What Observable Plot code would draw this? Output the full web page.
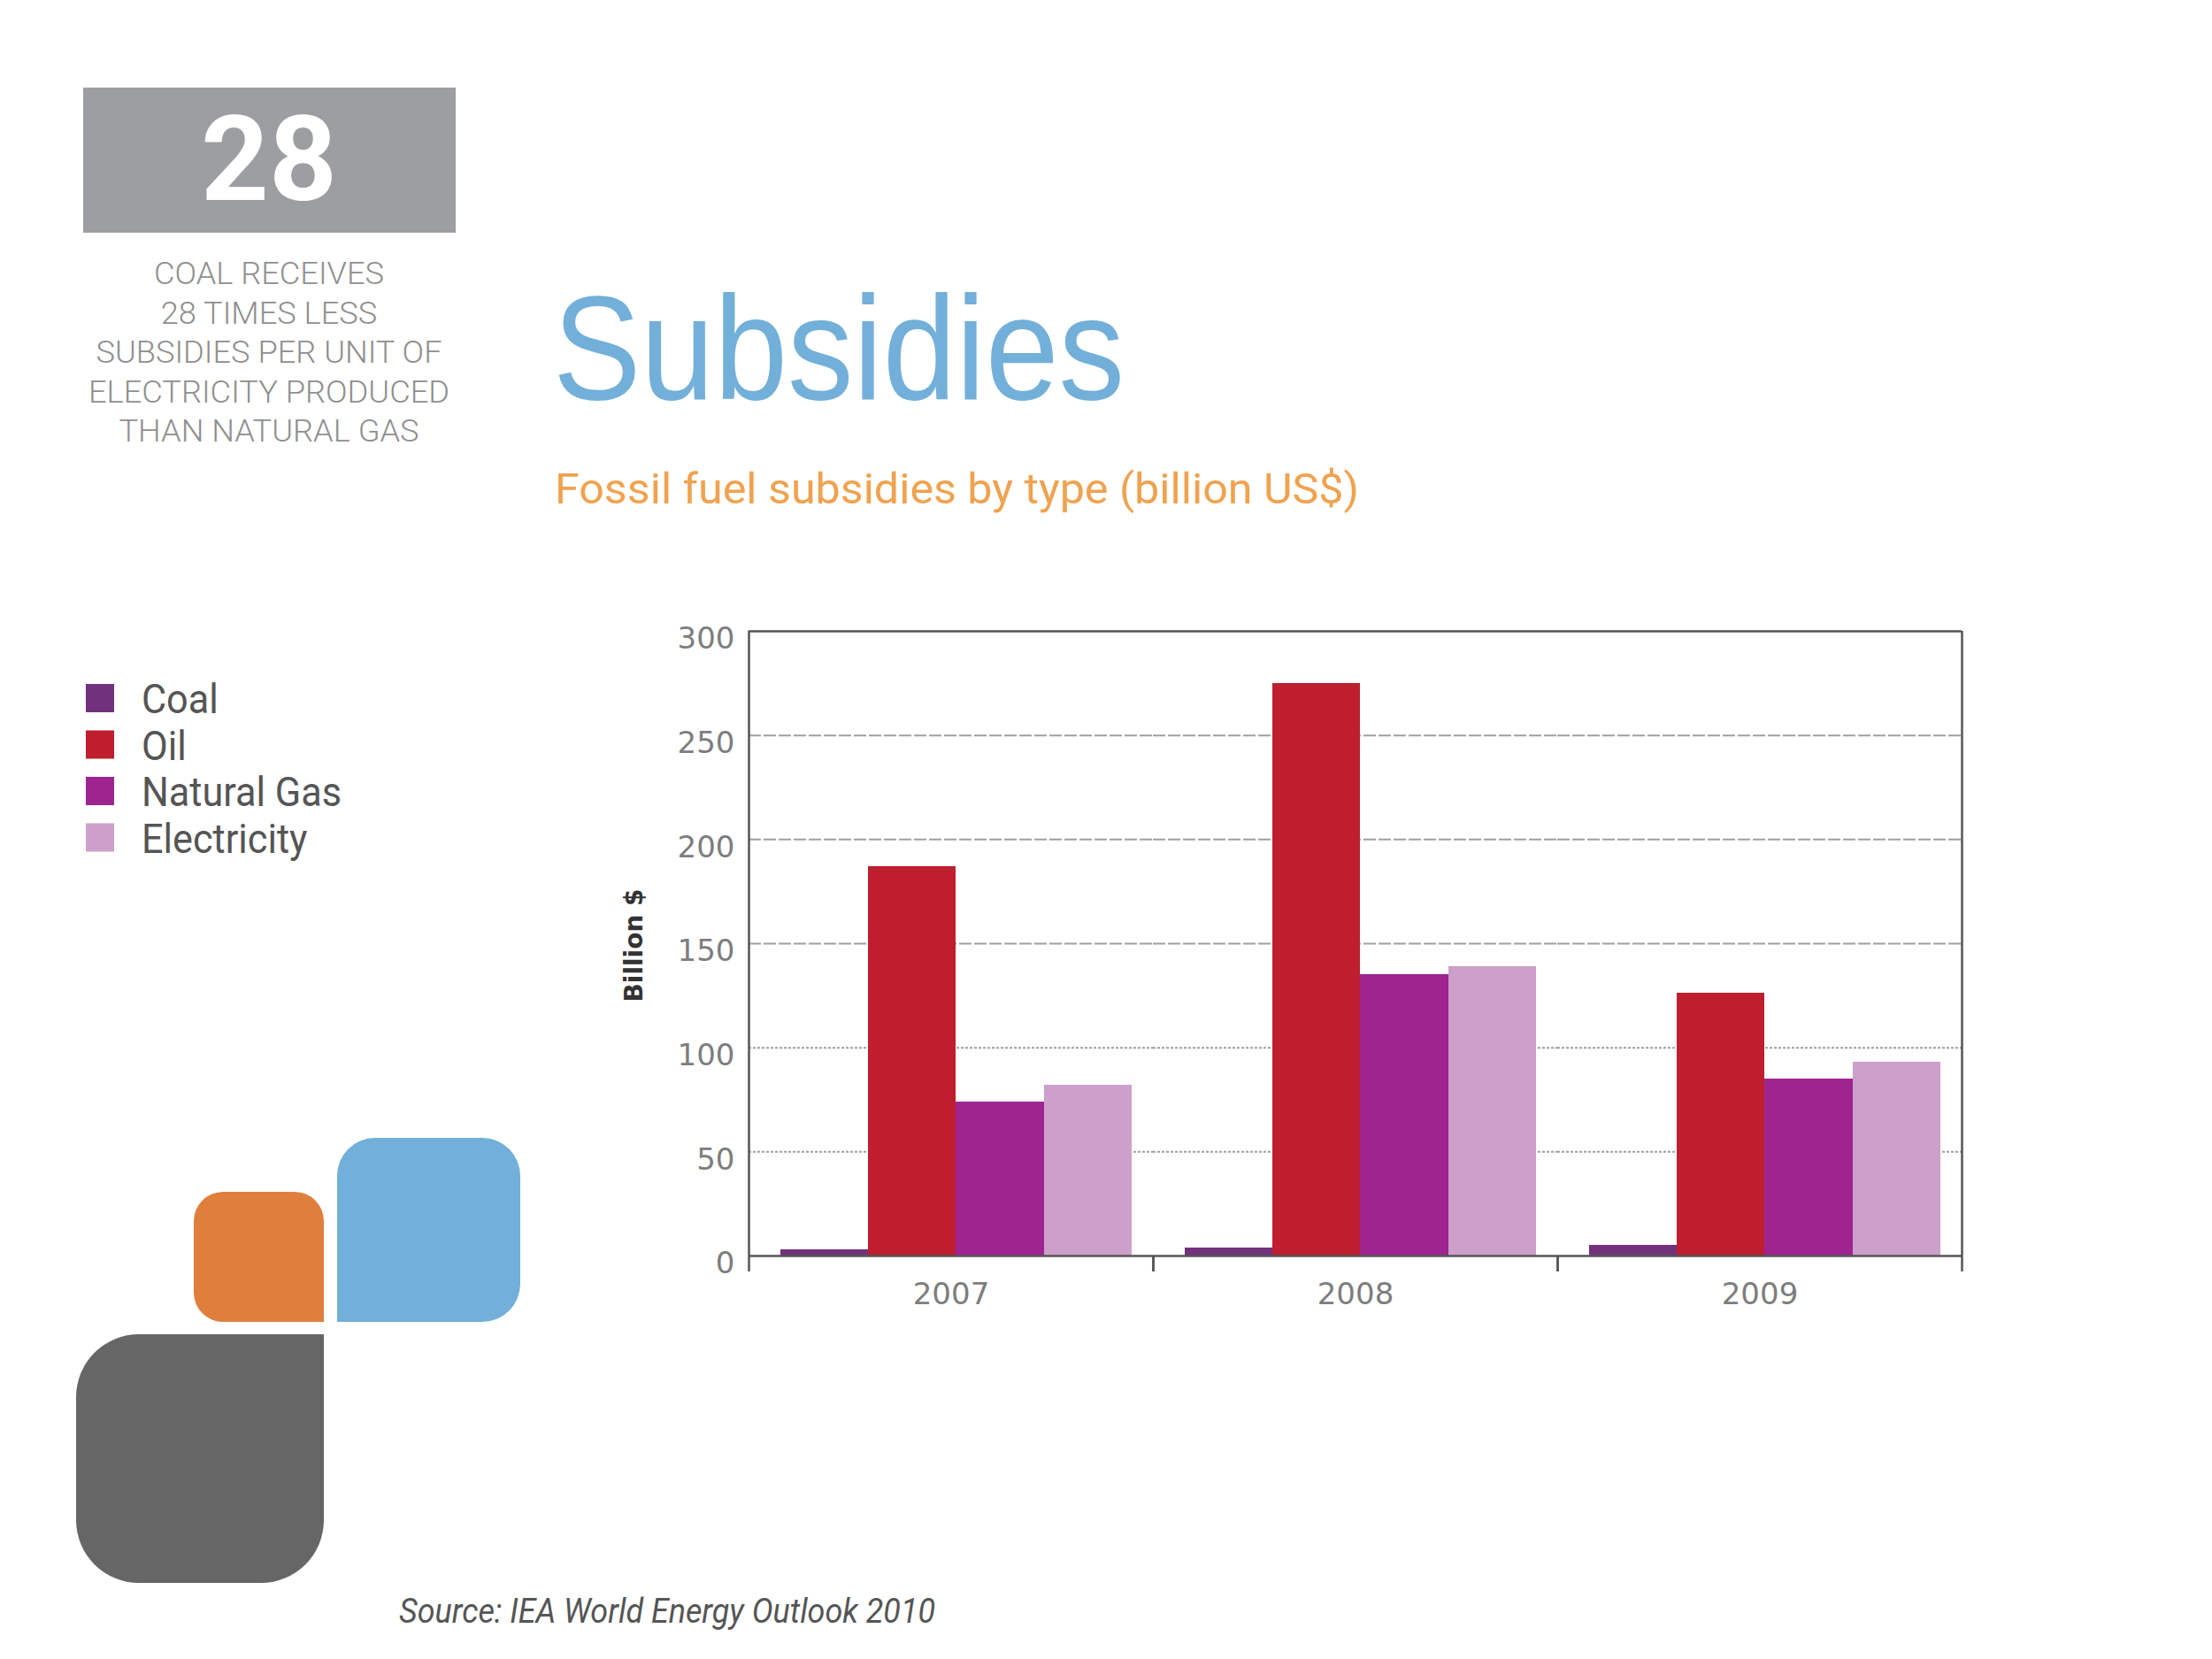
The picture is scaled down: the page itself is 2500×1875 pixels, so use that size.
<!DOCTYPE html>
<html><head><meta charset="utf-8">
<script src="https://cdn.jsdelivr.net/npm/d3@7"></script>
<script src="https://cdn.jsdelivr.net/npm/@observablehq/plot@0.6"></script>
<style>
body{margin:0;background:#fff;}
#page{position:relative;width:2500px;height:1875px;overflow:hidden;background:#fff;}
#page svg{position:absolute;}
</style></head><body><div id="page"></div>
<script>
// ---- data ----
const years = ["2007", "2008", "2009"];
const types = ["Coal", "Oil", "Natural Gas", "Electricity"];
const coal = [3, 4, 5];
const oil = [187, 275, 126];
const naturalGas = [74, 135, 85];
const electricity = [82, 139, 93];
const typeColors = ["#72317c", "#be1e2d", "#9e2590", "#cca0ca"];
const yTicks = [0, 50, 100, 150, 200, 250, 300];
const bigNumber = "28";
const sideNote = ["COAL RECEIVES", "28 TIMES LESS", "SUBSIDIES PER UNIT OF", "ELECTRICITY PRODUCED", "THAN NATURAL GAS"];
const title = "Subsidies";
const subtitle = "Fossil fuel subsidies by type (billion US$)";
const yLabel = "Billion $";
const source = "Source: IEA World Energy Outlook 2010";

const series = [coal, oil, naturalGas, electricity];
const table = years.flatMap((year, i) => types.map((type, k) => ({year, type, k, value: series[k][i]})));

const page = document.getElementById("page");

// ---- background decorations & text ----
const W = 2500, H = 1875;
const bg = d3.select(page).append("svg").attr("width", W).attr("height", H).style("left", "0px").style("top", "0px");

function roundedRect(x, y, w, h, [tl, tr, br, bl]) {
  return `M${x + tl},${y}H${x + w - tr}` + (tr ? `A${tr},${tr} 0 0 1 ${x + w},${y + tr}` : "") +
    `V${y + h - br}` + (br ? `A${br},${br} 0 0 1 ${x + w - br},${y + h}` : "") +
    `H${x + bl}` + (bl ? `A${bl},${bl} 0 0 1 ${x},${y + h - bl}` : "") +
    `V${y + tl}` + (tl ? `A${tl},${tl} 0 0 1 ${x + tl},${y}` : "") + "Z";
}
bg.append("path").attr("d", roundedRect(219, 1347, 147, 147, [33, 33, 0, 33])).attr("fill", "#e07e3c");
bg.append("path").attr("d", roundedRect(381, 1286, 207, 208, [43, 43, 43, 0])).attr("fill", "#72b0d9");
bg.append("path").attr("d", roundedRect(86, 1508, 280, 281, [71, 0, 71, 71])).attr("fill", "#666666");

// big number box
bg.append("rect").attr("x", 94).attr("y", 99).attr("width", 421).attr("height", 164).attr("fill", "#9d9ea2");
bg.append("text").text(bigNumber).attr("x", 304).attr("y", 226).attr("text-anchor", "middle")
  .attr("fill", "#fff").attr("font-family", "Roboto, 'Open Sans', sans-serif").attr("font-weight", 700).attr("font-size", 134);

// side note
const noteG = bg.append("g").attr("font-family", "Roboto, 'Open Sans', sans-serif").attr("font-weight", 300)
  .attr("font-size", 35).attr("fill", "#8f8f8f").attr("text-anchor", "middle");
const noteTexts = sideNote.map((t, i) => noteG.append("text").text(t).attr("x", 304).attr("y", 321 + i * 44.6));
const noteScale = 408 / noteTexts[3].node().getComputedTextLength();
noteTexts.forEach(t => t.attr("textLength", t.node().getComputedTextLength() * noteScale).attr("lengthAdjust", "spacingAndGlyphs"));

// title & subtitle
bg.append("text").text(title).attr("x", 625).attr("y", 451).attr("fill", "#72b0d9")
  .attr("font-family", "'Liberation Sans', Arial, sans-serif").attr("font-size", 167)
  .attr("textLength", 646).attr("lengthAdjust", "spacingAndGlyphs");
bg.append("text").text(subtitle).attr("x", 627).attr("y", 569).attr("fill", "#f0a24f")
  .attr("font-family", "Roboto, 'Open Sans', sans-serif").attr("font-size", 48)
  .attr("textLength", 909).attr("lengthAdjust", "spacingAndGlyphs");

// legend
const legG = bg.append("g");
const legTexts = types.map((t, i) => {
  legG.append("rect").attr("x", 97).attr("y", 773 + i * 52.5).attr("width", 32).attr("height", 32).attr("fill", typeColors[i]);
  return legG.append("text").text(t).attr("x", 160).attr("y", 806 + i * 52.5).attr("fill", "#555")
    .attr("font-family", "Roboto, 'Open Sans', sans-serif").attr("font-size", 46);
});
const legScale = 226 / legTexts[2].node().getComputedTextLength();
legTexts.forEach(t => t.attr("textLength", t.node().getComputedTextLength() * legScale).attr("lengthAdjust", "spacingAndGlyphs"));

// source
bg.append("text").text(source).attr("x", 451).attr("y", 1834).attr("fill", "#555")
  .attr("font-family", "Roboto, 'Open Sans', sans-serif").attr("font-style", "italic").attr("font-size", 38)
  .attr("textLength", 606).attr("lengthAdjust", "spacingAndGlyphs");

// ---- chart ----
const xDom = [-0.36, types.length + 0.24];
const frameColor = "#555";
const chart = Plot.plot({
  width: 1560, height: 820,
  marginLeft: 145, marginRight: 42, marginTop: 33, marginBottom: 81,
  style: {fontFamily: "'DejaVu Sans', Verdana, sans-serif", fontSize: "34px", color: "#7d7d7d", background: "transparent"},
  fx: {domain: years, padding: 0, axis: null, label: null},
  x: {domain: xDom, axis: null},
  y: {domain: [0, 300], axis: null},
  color: {domain: types, range: typeColors},
  marks: [
    Plot.gridY([50, 100], {stroke: "#a0a0a0", strokeOpacity: 1, strokeWidth: 2, strokeDasharray: "3,2"}),
    Plot.gridY([150, 200, 250], {stroke: "#a0a0a0", strokeOpacity: 1, strokeWidth: 2, strokeDasharray: "14,3"}),
    Plot.rectY(table, {fx: "year", x1: "k", x2: d => d.k + 1, y: "value", fill: "type", shapeRendering: "crispEdges"}),
    Plot.ruleY([0, 300], {stroke: frameColor, strokeWidth: 2.5}),
    Plot.ruleX([years[0]], {fx: d => d, x: () => xDom[0], stroke: frameColor, strokeWidth: 2.5}),
    Plot.ruleX([years[years.length - 1]], {fx: d => d, x: () => xDom[1], stroke: frameColor, strokeWidth: 2.5}),
    Plot.axisX({ticks: xDom, tickSize: 18, tickFormat: () => "", label: null, stroke: frameColor, strokeWidth: 2.5}),
    Plot.axisY({ticks: yTicks, tickSize: 0, tickPadding: 16, dy: 9, label: null, fill: "#7d7d7d"}),
    Plot.axisFx({anchor: "bottom", tickSize: 0, tickPadding: 30, label: null, fill: "#7d7d7d"}),
    Plot.text([years[0]], {fx: d => d, text: () => yLabel, frameAnchor: "left", rotate: -90, dx: -129, dy: 2,
      textAnchor: "middle", fontWeight: "bold", fontSize: 28, fill: "#333"})
  ]
});
chart.style.left = "700px";
chart.style.top = "680px";
page.appendChild(chart);
</script>
</body></html>
